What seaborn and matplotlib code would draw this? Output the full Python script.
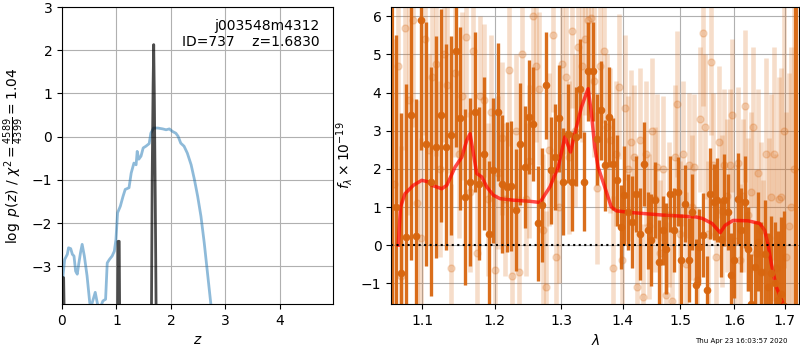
import numpy as np
import pandas as pd
import seaborn as sns
import matplotlib
matplotlib.use("Agg")
import matplotlib.pyplot as plt
from matplotlib.ticker import FixedLocator, FixedFormatter, NullLocator

# --- p(z): coarse grid (blue) ---
z_coarse = [0.018, 0.049, 0.098, 0.12, 0.16, 0.19, 0.22, 0.25, 0.28, 0.31, 0.34, 0.37,
            0.41, 0.46, 0.51, 0.55, 0.61, 0.65, 0.69, 0.75, 0.80, 0.83, 0.87, 0.92,
            0.96, 0.99, 1.02, 1.07, 1.12, 1.16, 1.23, 1.27, 1.32, 1.36, 1.38, 1.41,
            1.45, 1.49, 1.54, 1.60, 1.63, 1.68, 1.76, 1.85, 1.91, 1.97, 2.03, 2.09,
            2.13, 2.18, 2.24, 2.30, 2.37, 2.43, 2.49, 2.55, 2.61, 2.67, 2.73, 2.76]
logpz_coarse = [-3.22, -2.84, -2.72, -2.57, -2.59, -2.72, -2.76, -3.11, -3.18, -2.92, -2.68, -2.49,
                -2.76, -3.22, -3.85, -3.86, -3.60, -3.86, -4.00, -3.80, -3.76, -2.92, -2.84, -2.76,
                -2.65, -2.38, -1.76, -1.61, -1.38, -1.22, -1.18, -0.84, -0.61, -0.65, -0.34, -0.52,
                -0.45, -0.26, -0.22, -0.16, 0.08, 0.20, 0.20, 0.18, 0.16, 0.18, 0.12, 0.08,
                0.01, -0.15, -0.22, -0.38, -0.65, -0.99, -1.38, -1.84, -2.45, -3.15, -3.85, -4.20]

# --- p(z): fine grid around peaks (black) ---
z_fine = [0.000, 0.006, 0.030, 0.045, np.nan,
          1.020, 1.030, 1.050, 1.060, np.nan,
          1.640, 1.655, 1.672, 1.683, 1.694, 1.712, 1.730]
logpz_fine = [-4.5, -3.26, -3.26, -4.5, np.nan,
              -4.5, -2.42, -2.42, -4.5, np.nan,
              -4.5, -1.0, 1.2, 2.13, 1.0, -1.5, -4.5]

# --- spectrum: binned (dark) ---
wave_start, wave_step = 1.066, 0.0066
flux_dark = [1.0, -0.74, 0.22, 3.40, 0.24, 5.90, 2.66, 1.66, 2.57, 3.40,
             2.57, 2.88, 5.08, 3.32, 1.27, 1.66, 3.49, 1.61, 2.40, 0.30,
             1.96, 3.49, 1.60, 1.53, 1.55, 0.92, 2.66, 2.05, 3.36, 3.18,
             0.57, 1.05, 4.19, 1.96, 2.31, 3.32, 1.66, 2.92, 1.66, 2.84,
             4.10, 1.66, 4.56, 4.56, 2.77, 3.53, 2.09, 3.36, 2.12, 1.70,
             0.48, 1.31, 0.87, 0.61, 1.35, 0.30, 2.14, 0.39, 0.13, 1.18,
             -0.44, 0.39, -0.09, 1.35, 0.39, 1.40, -0.39, 1.09, -0.39, 0.87,
             -1.05, -0.04, 0.26, -1.18, 1.35, 1.13, 1.18, 0.17, 1.18, 0.87,
             -0.79, -0.39, 1.22, 0.39, 1.13, -0.09, -1.53, -0.57, 0.09, -0.70,
             -0.22, -1.09, -0.74, -1.00, -1.44, -1.27, -1.60]
err_dark = [4.5, 4.2, 4.0, 3.8, 3.6, 3.4, 3.2, 3.0, 2.9, 2.8,
            2.7, 2.6, 2.5, 2.4, 2.3, 2.2, 2.1, 2.0, 2.0, 1.9,
            1.9, 1.8, 1.8, 1.7, 1.7, 1.6, 1.6, 1.6, 1.5, 1.5,
            1.5, 1.5, 1.4, 1.4, 1.4, 1.4, 1.4, 1.3, 1.3, 1.3,
            1.3, 1.3, 1.3, 1.3, 1.2, 1.3, 1.2, 1.3, 1.2, 1.2,
            1.1, 1.3, 1.0, 1.2, 1.0, 1.2, 1.1, 1.0, 1.2, 1.0,
            1.1, 0.9, 1.2, 1.0, 1.1, 0.9, 1.2, 1.0, 1.1, 1.0,
            1.2, 1.0, 1.1, 0.9, 1.2, 1.0, 1.1, 1.0, 1.2, 1.0,
            1.1, 1.0, 1.2, 1.1, 1.2, 1.1, 1.3, 1.2, 1.3, 1.3,
            1.4, 1.4, 1.5, 1.6, 1.8, 2.0, 2.5]
edge_wave = [1.0605, 1.7225]
edge_flux = [2.0, 2.0]
edge_err = [10.0, 10.0]

# --- spectrum: unbinned (light) ---
light_start, light_step = 1.063, 0.00508
flux_light = [1.6, 4.7, -0.8, 5.7, 3.8, 5.9, 1.1, 0.2, 5.4, 2.5,
              4.4, 4.75, 2.0, 5.0, 4.2, -0.6, 4.5, 2.4, 3.9, 5.45,
              1.4, 5.1, -0.2, 3.9, 3.8, 1.2, 3.5, -0.65, 1.9, 2.8,
              1.2, 4.6, -0.8, 3.0, -0.7, 5.0, 1.2, 2.2, 6.0, 4.7,
              4.1, 0.4, -1.1, 2.5, 5.5, -0.3, 1.0, 4.75, 4.4, 2.3,
              5.6, 3.0, 5.2, 4.7, 5.4, 5.9, 5.95, 4.3, 1.5, 4.7,
              5.1, 3.1, 2.75, -0.6, 2.4, 4.15, -0.4, 3.6, 2.0, 2.7,
              2.3, -1.1, 2.75, -1.35, 2.4, 0.5, 3.0, 1.2, 2.05, -0.2,
              2.0, -1.3, 0.8, -1.45, 2.3, 3.7, 0.3, 2.4, -0.5, 2.1,
              1.0, 2.05, -0.9, 3.3, 5.55, 3.1, 0.3, 4.8, 2.1, -0.3,
              2.7, 0.9, 2.1, 1.3, 2.1, 3.4, 0.1, 2.15, -0.4, 1.3,
              3.65, 0.8, 1.4, 3.1, -0.2, 1.9, 0.4, -0.7, 2.4, 0.2,
              1.25, 2.4, -0.6, 1.2, 1.25, 3.0, -0.3, 0.5, 1.0, 2.0]
err_light = [3.8, 3.6, 3.4, 3.2, 3.0, 2.8, 2.7, 2.6, 2.5, 2.5,
             2.4, 2.4, 2.3, 2.3, 2.3, 2.2, 2.2, 2.2, 2.2, 2.1,
             2.1, 2.1, 2.1, 2.1, 2.0, 2.0, 2.0, 2.0, 2.0, 2.0,
             2.0, 2.0, 2.0, 2.0, 2.0, 2.0, 2.0, 2.0, 2.0, 2.0,
             2.0, 2.0, 2.0, 2.0, 2.0, 2.0, 2.0, 2.0, 2.0, 2.0,
             2.0, 2.0, 2.0, 2.0, 2.0, 2.0, 2.0, 2.0, 2.0, 2.0,
             1.9, 1.9, 1.9, 1.9, 1.9, 1.9, 1.9, 1.9, 1.9, 1.9,
             1.9, 1.9, 1.9, 1.9, 1.9, 1.9, 1.9, 1.9, 1.9, 1.9,
             1.9, 1.9, 1.9, 1.9, 1.9, 1.9, 1.9, 1.9, 1.9, 1.9,
             1.9, 1.9, 1.9, 1.9, 1.9, 1.9, 1.9, 1.9, 1.9, 1.9,
             2.0, 2.0, 2.0, 2.0, 2.0, 2.0, 2.0, 2.0, 2.0, 2.0,
             2.0, 2.0, 2.1, 2.1, 2.2, 2.2, 2.3, 2.4, 2.5, 2.6,
             2.7, 2.8, 3.0, 3.2, 3.4, 3.6, 3.8, 4.0, 4.2, 4.5]

# --- best-fit model (red) ---
model_wave = [1.0690, 1.0719, 1.0777, 1.0886, 1.0996, 1.1084, 1.1129, 1.1264, 1.1332, 1.1446,
              1.1538, 1.1607, 1.1653, 1.1700, 1.1746, 1.1817, 1.1888, 1.1983, 1.2079, 1.2273,
              1.2522, 1.2673, 1.2826, 1.2954, 1.3058, 1.3146, 1.3214, 1.3320, 1.3427, 1.3481,
              1.3534, 1.3588, 1.3697, 1.3806, 1.3890, 1.4110, 1.4681, 1.5284, 1.5402, 1.5581,
              1.5735, 1.5827, 1.5981, 1.6270, 1.6497, 1.6597, 1.6663, 1.6730, 1.6830, 1.6967,
              1.7050]
model_flux = [0.0, 1.0, 1.35, 1.57, 1.70, 1.66, 1.57, 1.48, 1.57, 2.05,
              2.31, 2.75, 2.92, 2.40, 1.88, 1.79, 1.53, 1.31, 1.22, 1.18,
              1.15, 1.12, 1.53, 2.05, 2.84, 2.44, 2.92, 3.62, 4.10, 3.45,
              2.57, 2.05, 1.53, 1.00, 0.90, 0.86, 0.79, 0.74, 0.70, 0.57,
              0.33, 0.52, 0.65, 0.64, 0.57, 0.39, 0.04, -0.48, -1.09, -1.53,
              -2.0]

obj_name = "j003548m4312"
obj_id = 737
z_best = 1.6830
chi2_num, chi2_den, chi2_red = 4589, 4399, 1.04
stamp = "Thu Apr 23 16:03:57 2020"

wave_dark = wave_start + wave_step * np.arange(len(flux_dark))
wave_light = light_start + light_step * np.arange(len(flux_light))
pz_df = pd.DataFrame({"z": z_coarse, "logpz": logpz_coarse})
model_df = pd.DataFrame({"wave": model_wave, "flux": model_flux})

spec_color = "#d8660f"

fig = plt.figure(figsize=(8, 3.5), dpi=100)
ax1 = fig.add_axes([0.0775, 0.1314, 0.3385, 0.8486])
ax2 = fig.add_axes([0.489, 0.1314, 0.510, 0.8486])

# left panel: p(z)
sns.lineplot(data=pz_df, x="z", y="logpz", ax=ax1, color="C0", alpha=0.5, lw=2, sort=False)
ax1.plot(z_fine, logpz_fine, color="k", alpha=0.7, lw=2)
ax1.set_xlim(0, 4.97)
ax1.set_ylim(-3.87, 3.0)
ax1.set_xticks([0, 1, 2, 3, 4])
ax1.set_yticks([-3, -2, -1, 0, 1, 2, 3])
ax1.grid(True)
ax1.set_xlabel("$z$")
ax1.set_ylabel(r"$\log\ p(z)$ / $\chi^2=\frac{%d}{%d}=%.2f$" % (chi2_num, chi2_den, chi2_red))
ax1.text(0.95, 0.96, f"{obj_name}\nID={obj_id}    z={z_best:.4f}", transform=ax1.transAxes,
         ha="right", va="top", fontsize=10)

# right panel: spectrum
ax2.errorbar(wave_light, flux_light, yerr=err_light, color=spec_color, alpha=0.22,
             marker="o", ms=5, linestyle="None", elinewidth=3.3)
ax2.errorbar(wave_dark, flux_dark, yerr=err_dark, color=spec_color, alpha=0.95,
             marker="o", ms=4.5, linestyle="None", elinewidth=2.4)
ax2.errorbar(edge_wave, edge_flux, yerr=edge_err, color=spec_color, alpha=0.95,
             marker="None", linestyle="None", elinewidth=3)
sns.lineplot(data=model_df, x="wave", y="flux", ax=ax2, color="r", alpha=0.7, lw=2.5, sort=False)
ax2.axhline(0, color="k", linestyle=":", lw=1.5)
ax2.set_xscale("log")
ax2.set_xlim(1.06, 1.73)
ax2.set_ylim(-1.54, 6.24)
xt = [1.1, 1.2, 1.3, 1.4, 1.5, 1.6, 1.7]
ax2.xaxis.set_major_locator(FixedLocator(xt))
ax2.xaxis.set_major_formatter(FixedFormatter([f"{v:.1f}" for v in xt]))
ax2.xaxis.set_minor_locator(NullLocator())
ax2.set_yticks([-1, 0, 1, 2, 3, 4, 5, 6])
ax2.grid(True)
ax2.set_xlabel(r"$\lambda$")
ax2.set_ylabel(r"$f_\lambda\times10^{-19}$")

fig.text(0.984, 0.027, stamp, ha="right", va="center", fontsize=5)

fig.savefig("out.png", dpi=100)
